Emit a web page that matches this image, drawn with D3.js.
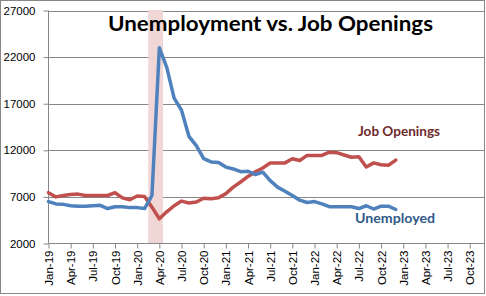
<!DOCTYPE html>
<html>
<head>
<meta charset="utf-8">
<script src="https://cdn.jsdelivr.net/npm/d3@7"></script>
<style>
  html, body { margin: 0; padding: 0; background: #fff; }
  svg { display: block; }
</style>
</head>
<body>
<svg id="chart" width="486" height="296"></svg>
<script>
// ---- data ----
const axisMonths = [
  "Jan-19","Feb-19","Mar-19","Apr-19","May-19","Jun-19","Jul-19","Aug-19","Sep-19","Oct-19","Nov-19","Dec-19",
  "Jan-20","Feb-20","Mar-20","Apr-20","May-20","Jun-20","Jul-20","Aug-20","Sep-20","Oct-20","Nov-20","Dec-20",
  "Jan-21","Feb-21","Mar-21","Apr-21","May-21","Jun-21","Jul-21","Aug-21","Sep-21","Oct-21","Nov-21","Dec-21",
  "Jan-22","Feb-22","Mar-22","Apr-22","May-22","Jun-22","Jul-22","Aug-22","Sep-22","Oct-22","Nov-22","Dec-22",
  "Jan-23","Feb-23","Mar-23","Apr-23","May-23","Jun-23","Jul-23","Aug-23","Sep-23","Oct-23","Nov-23","Dec-23"
];
const dataMonths = axisMonths.slice(0, 48);
const unemployed = [
  6500, 6250, 6200, 6050, 6000, 6000, 6050, 6100, 5750, 5950, 5950, 5850,
  5850, 5750, 7150, 23000, 20900, 17600, 16300, 13500, 12500, 11100, 10750, 10700,
  10200, 10000, 9700, 9750, 9400, 9650, 8750, 8050, 7600, 7150, 6650, 6400,
  6500, 6250, 5950, 5950, 5950, 5950, 5750, 6050, 5700, 6000, 6000, 5650
];
const jobOpenings = [
  7450, 7000, 7150, 7250, 7300, 7150, 7150, 7150, 7150, 7450, 6900, 6700,
  7100, 7050, 5900, 4650, 5400, 6050, 6550, 6350, 6450, 6850, 6800, 6900,
  7350, 8050, 8600, 9200, 9700, 10100, 10650, 10650, 10650, 11100, 10900, 11450,
  11450, 11450, 11800, 11750, 11500, 11250, 11300, 10200, 10650, 10450, 10400, 10950
];
const recessionMonths = ["Mar-20", "Apr-20"];
const xTickLabels = [
  "Jan-19","Apr-19","Jul-19","Oct-19","Jan-20","Apr-20","Jul-20","Oct-20",
  "Jan-21","Apr-21","Jul-21","Oct-21","Jan-22","Apr-22","Jul-22","Oct-22",
  "Jan-23","Apr-23","Jul-23","Oct-23"
];
const yTicks = [2000, 7000, 12000, 17000, 22000, 27000];
const titleText = "Unemployment vs. Job Openings";

// ---- layout ----
const svg = d3.select("#chart");
const W = 486, H = 296;
const plot = { left: 48.5, right: 484.5, top: 10.5, bottom: 243.5 };
const gray = "#878787";

svg.append("rect").attr("x", 0).attr("y", 0).attr("width", W).attr("height", H).attr("fill", "#fff");

const x = d3.scalePoint().domain(axisMonths).range([plot.left, plot.right]);
const step = x.step();
const y = d3.scaleLinear().domain([2000, 27000]).range([plot.bottom, plot.top]);

// gridlines
svg.append("g").selectAll("line").data(yTicks.slice(1)).join("line")
  .attr("x1", plot.left).attr("x2", plot.right)
  .attr("y1", d => Math.round(y(d)) + 0.5).attr("y2", d => Math.round(y(d)) + 0.5)
  .attr("stroke", gray).attr("stroke-width", 1);

// recession band
const bx0 = x(recessionMonths[0]) - step / 2;
const bx1 = x(recessionMonths[recessionMonths.length - 1]) + step / 2;
svg.append("rect")
  .attr("x", bx0).attr("y", plot.top - 0.5)
  .attr("width", bx1 - bx0).attr("height", plot.bottom - plot.top)
  .attr("fill", "#f1d6d6");

// y axis
const yAxis = d3.axisLeft(y).tickValues(yTicks).tickSize(5).tickPadding(8).tickFormat(d3.format("d"));
const gy = svg.append("g").attr("transform", `translate(${plot.left},0)`).call(yAxis);
gy.select(".domain").attr("stroke", gray).attr("d", `M-0,${plot.top}V${plot.bottom}`);
gy.selectAll(".tick line").attr("stroke", gray);
gy.selectAll(".tick text")
  .attr("font-family", "'Liberation Sans', Arial, sans-serif")
  .attr("font-size", "11.5px").attr("fill", "#000");

// x axis
const xAxis = d3.axisBottom(x).tickValues(xTickLabels).tickSize(5).tickPadding(0);
const gx = svg.append("g").attr("transform", `translate(0,${plot.bottom})`).call(xAxis);
gx.select(".domain").attr("stroke", gray).attr("d", `M${plot.left},0H${plot.right}`);
gx.selectAll(".tick line").attr("stroke", gray);
gx.selectAll(".tick text")
  .attr("font-family", "'Liberation Sans', Arial, sans-serif")
  .attr("font-size", "11.5px").attr("fill", "#000")
  .attr("text-anchor", "end")
  .attr("dy", "0.35em")
  .attr("transform", "translate(0,7) rotate(-90)")
  .attr("x", 0).attr("y", 0);

// lines
const line = d3.line().x((d, i) => x(dataMonths[i])).y(d => y(d)).curve(d3.curveLinear);
svg.append("path").datum(jobOpenings)
  .attr("d", line).attr("fill", "none").attr("stroke", "#C0504D")
  .attr("stroke-width", 3.5).attr("stroke-linejoin", "round").attr("stroke-linecap", "round");
svg.append("path").datum(unemployed)
  .attr("d", line).attr("fill", "none").attr("stroke", "#4F81BD")
  .attr("stroke-width", 3.5).attr("stroke-linejoin", "round").attr("stroke-linecap", "round");

// frame
svg.append("rect").attr("x", 0.5).attr("y", 0.5).attr("width", 484).attr("height", 293)
  .attr("fill", "none").attr("stroke", gray).attr("stroke-width", 1);

// title
svg.append("text").text(titleText)
  .attr("x", 108).attr("y", 31)
  .attr("font-family", "Lato, 'Open Sans', sans-serif").attr("font-weight", "bold")
  .attr("font-size", "21px").attr("fill", "#000")
  .attr("textLength", 325).attr("lengthAdjust", "spacingAndGlyphs");

// series labels
svg.append("text").text("Job Openings")
  .attr("x", 358).attr("y", 136)
  .attr("font-family", "Lato, 'Open Sans', sans-serif").attr("font-weight", "bold")
  .attr("font-size", "13px").attr("fill", "#6f2a2a")
  .attr("textLength", 82).attr("lengthAdjust", "spacingAndGlyphs");
svg.append("text").text("Unemployed")
  .attr("x", 355).attr("y", 223)
  .attr("font-family", "Lato, 'Open Sans', sans-serif").attr("font-weight", "bold")
  .attr("font-size", "13px").attr("fill", "#30598a")
  .attr("textLength", 80).attr("lengthAdjust", "spacingAndGlyphs");
</script>
</body>
</html>
